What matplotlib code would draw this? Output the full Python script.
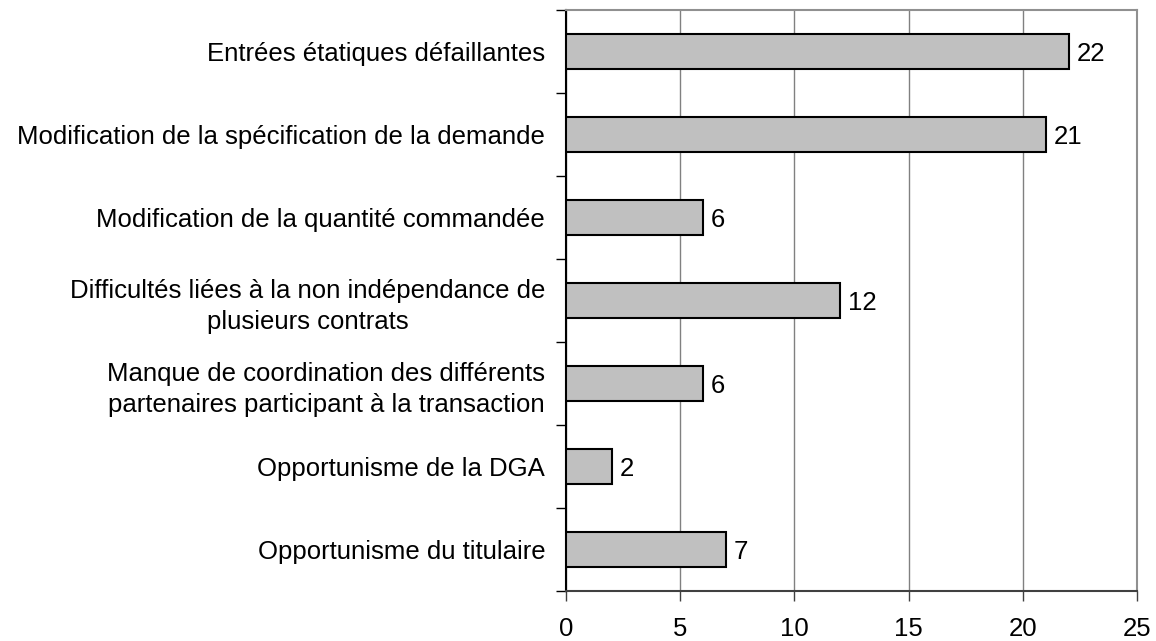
import numpy as np
import matplotlib
matplotlib.use('Agg')
import matplotlib.pyplot as plt
from matplotlib.ticker import MultipleLocator, FixedLocator

plt.rcParams['font.family'] = ['Liberation Sans', 'DejaVu Sans']

categories = [
    'Entrées étatiques défaillantes',
    'Modification de la spécification de la demande',
    'Modification de la quantité commandée',
    'Difficultés liées à la non indépendance de\nplusieurs contrats',
    'Manque de coordination des différents\npartenaires participant à la transaction',
    'Opportunisme de la DGA',
    'Opportunisme du titulaire',
]
values = [22, 21, 6, 12, 6, 2, 7]

fs = 18.5

fig = plt.figure(figsize=(11.56, 6.41), dpi=100)
ax = fig.add_axes([0.4896, 0.0780, 0.4940, 0.9064])

y = np.arange(len(categories))
ax.barh(y, values, height=0.41, color='#c0c0c0', edgecolor='black', linewidth=1.5, zorder=3)
# étiquettes de valeur
for yi, v in zip(y, values):
    ax.text(v + 0.35, yi, str(v), va='center_baseline', ha='left', fontsize=fs)

ax.set_xlim(0, 25)
ax.set_ylim(len(categories) - 0.5, -0.5)
ax.xaxis.set_major_locator(MultipleLocator(5))
ax.grid(axis='x', color='#808080', linewidth=1, zorder=0)

ax.set_yticks(y)
ax.set_yticklabels(categories, fontsize=fs, linespacing=1.35, multialignment='center')
ax.yaxis.set_minor_locator(FixedLocator(np.arange(-0.5, len(categories), 1)))
ax.tick_params(axis='y', which='major', length=0, pad=15)
ax.tick_params(axis='y', which='minor', length=7, width=1, color='black', direction='out')
ax.tick_params(axis='x', length=7, width=1, color='#404040', labelsize=fs, pad=12)

ax.spines['left'].set_color('black')
ax.spines['left'].set_linewidth(1.5)
ax.spines['bottom'].set_color('#404040')
ax.spines['bottom'].set_linewidth(1.5)
ax.spines['top'].set_color('#909090')
ax.spines['top'].set_linewidth(1.5)
ax.spines['right'].set_color('#909090')
ax.spines['right'].set_linewidth(1.5)

plt.savefig('out.png', dpi=100)
